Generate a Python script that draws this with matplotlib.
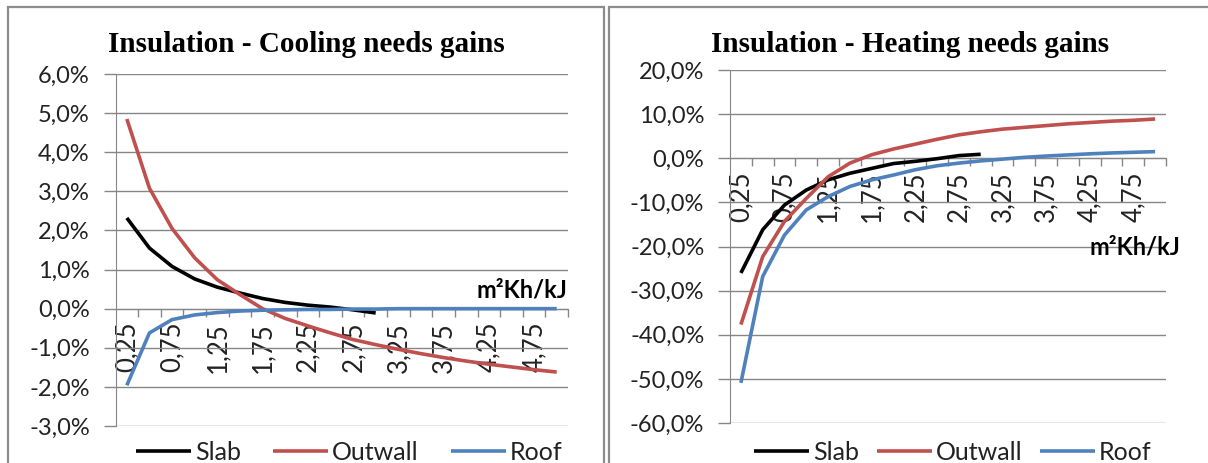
import matplotlib
matplotlib.use("Agg")
from matplotlib import pyplot as plt
from matplotlib.patches import Rectangle

# categories: insulation resistance (m2Kh/kJ), 0,25 .. 5,0
categories = ["0,25", "0,5", "0,75", "1", "1,25", "1,5", "1,75", "2", "2,25", "2,5",
              "2,75", "3", "3,25", "3,5", "3,75", "4", "4,25", "4,5", "4,75", "5"]

# cooling needs gains (%)
cool_slab = [2.32, 1.55, 1.08, 0.76, 0.55, 0.40, 0.26, 0.16, 0.09, 0.04, -0.03, -0.11]
cool_outwall = [4.85, 3.08, 2.05, 1.30, 0.74, 0.36, 0.0, -0.25, -0.44, -0.62, -0.79, -0.92,
                -1.04, -1.15, -1.25, -1.34, -1.42, -1.49, -1.56, -1.62]
cool_roof = [-1.96, -0.62, -0.28, -0.16, -0.10, -0.06, -0.04, -0.03, -0.02, -0.02, -0.01, -0.01,
             0.0, 0.0, 0.0, 0.0, 0.0, 0.0, 0.0, 0.0]

# heating needs gains (%)
heat_slab = [-26.0, -16.2, -10.6, -7.2, -4.9, -3.4, -2.3, -1.2, -0.7, -0.1, 0.6, 0.9]
heat_outwall = [-37.7, -22.3, -14.3, -9.1, -4.2, -1.1, 0.8, 2.1, 3.2, 4.3, 5.3, 6.0,
                6.6, 7.0, 7.4, 7.8, 8.1, 8.4, 8.6, 8.9]
heat_roof = [-50.9, -26.8, -17.4, -11.7, -8.7, -6.4, -4.9, -3.8, -2.6, -1.7, -1.1, -0.6,
             -0.2, 0.2, 0.5, 0.75, 1.0, 1.2, 1.35, 1.5]

cool_ticks = [-3, -2, -1, 0, 1, 2, 3, 4, 5, 6]
heat_ticks = [-60, -50, -40, -30, -20, -10, 0, 10, 20]

series_names = ["Slab", "Outwall", "Roof"]
series_colors = ["black", "#C0504D", "#4F81BD"]

sans = ["Lato", "DejaVu Sans"]
plt.rcParams["font.family"] = sans
plt.rcParams["text.color"] = "#222222"

W, H = 1208, 463
fig = plt.figure(figsize=(W / 100, H / 100), dpi=100)

grid_col = "#868686"
title_font = {"family": ["Liberation Serif", "DejaVu Serif"], "weight": "bold", "size": 21,
              "color": "black"}


def px(x0, y0, x1, y1):
    # pixel box (top-left origin) to figure fraction
    return [x0 / W, 1 - y1 / H, (x1 - x0) / W, (y1 - y0) / H]


# panel frames
for x0, x1 in [(8, 604), (609, 1212)]:
    fig.patches.append(Rectangle((x0 / W, -0.1), (x1 - x0) / W, 1.1 - 7 / H,
                                 transform=fig.transFigure, fill=False,
                                 edgecolor="#8c8c8c", linewidth=1.6))


def draw(box, data, yticks, title, title_x, unit_xy, legend_x, colspace):
    ax = fig.add_axes(px(*box))
    n = len(categories)
    for vals, name, col in zip(data, series_names, series_colors):
        ax.plot(range(len(vals)), vals, color=col, linewidth=2.6, label=name,
                solid_capstyle="butt", zorder=3)
    ax.set_xlim(-0.5, n - 0.5)
    ax.set_ylim(yticks[0], yticks[-1])
    ax.set_yticks(yticks)
    ax.set_yticklabels(["%d,0%%" % t for t in yticks])
    ax.yaxis.grid(True, color=grid_col, linewidth=1)
    ax.tick_params(axis="y", length=9, color=grid_col, width=1, pad=9.5,
                   labelsize=17, labelcolor="#222222")
    # category boundaries as tick marks, labels on every other category
    ax.set_xticks([i + 0.5 for i in range(n)])
    ax.set_xticklabels([])
    ax.set_xticks(range(0, n, 2), minor=True)
    ax.set_xticklabels(categories[0::2], minor=True)
    ax.tick_params(axis="x", which="major", length=6, color=grid_col, width=1, direction="out")
    ax.tick_params(axis="x", which="minor", length=0, pad=9.5, labelrotation=90,
                   labelsize=18.5, labelcolor="#222222")
    for s in ["top", "right"]:
        ax.spines[s].set_visible(False)
    ax.spines["left"].set_color(grid_col)
    ax.spines["bottom"].set_color(grid_col)
    ax.spines["bottom"].set_position(("data", 0))
    ax.set_axisbelow(True)
    fig.text(title_x / W, 1 - 45 / H, title, ha="center", va="center", fontdict=title_font)
    fig.text(unit_xy[0] / W, 1 - unit_xy[1] / H, "m²Kh/kJ", ha="right", va="center",
             weight="bold", size=17, color="black")
    fig.legend(handles=ax.get_lines(), loc="center left", ncol=3,
               bbox_to_anchor=(legend_x / W, 1 - 452 / H), frameon=False,
               prop={"size": 18},
               handlelength=2.2, handletextpad=0.15, columnspacing=colspace,
               borderaxespad=0, borderpad=0)
    return ax


draw((115.5, 74, 568, 426), [cool_slab, cool_outwall, cool_roof], cool_ticks,
     "Insulation - Cooling needs gains", 306, (567, 290), 136, 1.3)
draw((730, 70, 1166, 423), [heat_slab, heat_outwall, heat_roof], heat_ticks,
     "Insulation - Heating needs gains", 910, (1180, 247), 754, 0.72)

fig.savefig("out.png", dpi=100)
